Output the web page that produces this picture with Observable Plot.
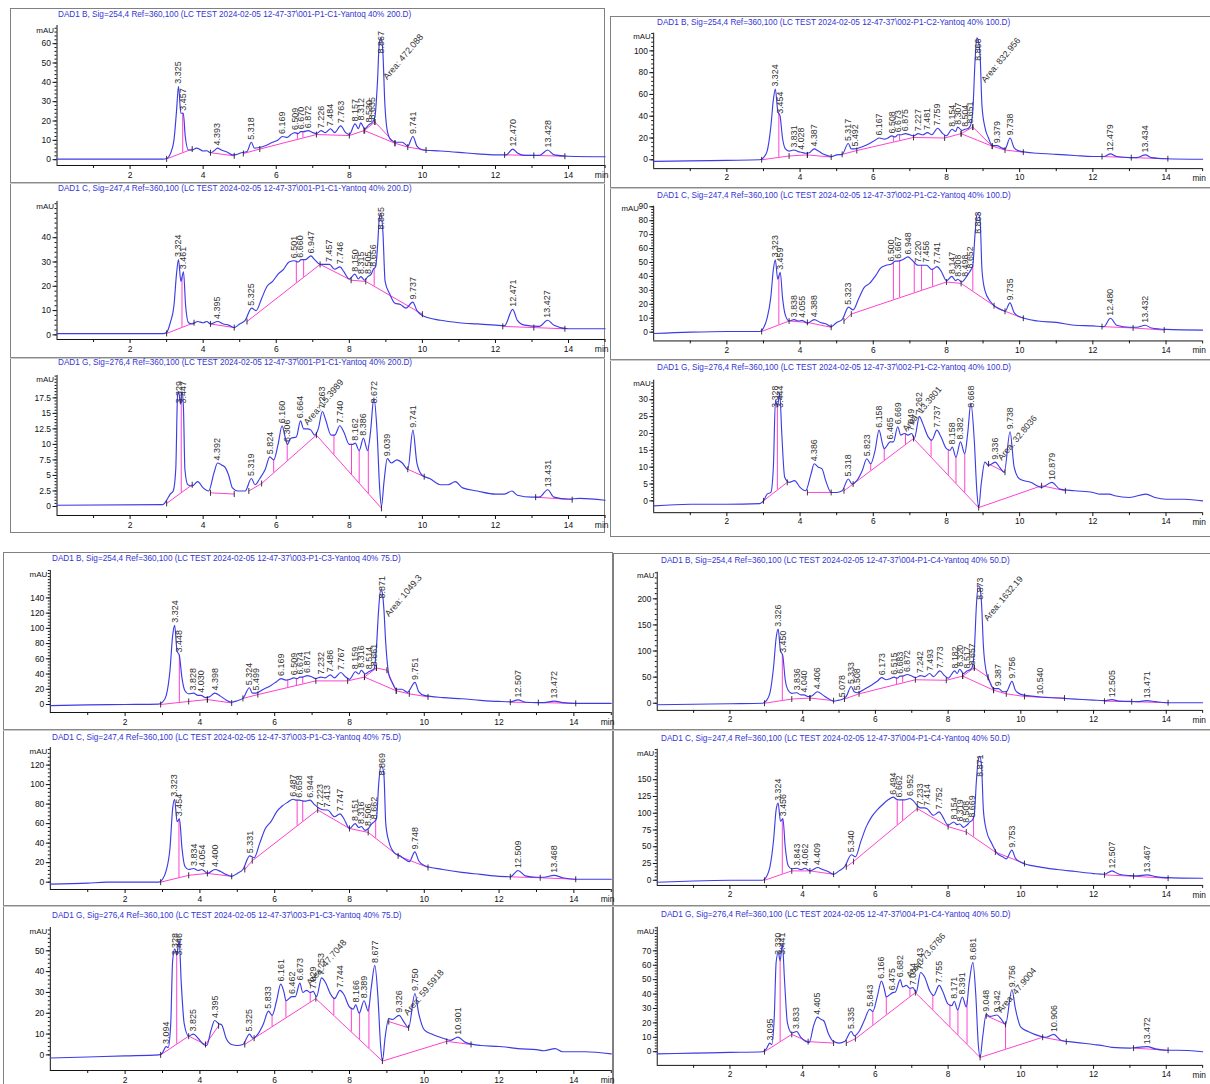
<!DOCTYPE html>
<html><head><meta charset="utf-8">
<script src="https://cdn.jsdelivr.net/npm/d3@7"></script>
<script src="https://cdn.jsdelivr.net/npm/@observablehq/plot@0.6"></script>
<style>
html,body{margin:0;padding:0;background:#fff}
body{width:1210px;height:1084px;overflow:hidden;position:relative;font-family:"Liberation Sans",Arial,sans-serif}
.grp{position:absolute;border:1px solid #808080;box-sizing:border-box}
.div{position:absolute;height:0;border-top:1px solid #8a8a8a;border-bottom:1px solid #c8c8c8}
.pan{position:absolute}
.ttl{position:absolute;color:#3434d6;font-size:9.2px;white-space:nowrap;line-height:10px;transform:scaleX(0.89);transform-origin:0 0}
</style></head><body>
<script>
// ---------------- DATA ----------------
const titles = [
 "DAD1 B, Sig=254,4 Ref=360,100 (LC TEST 2024-02-05 12-47-37\\001-P1-C1-Yantoq 40% 200.D)",
 "DAD1 C, Sig=247,4 Ref=360,100 (LC TEST 2024-02-05 12-47-37\\001-P1-C1-Yantoq 40% 200.D)",
 "DAD1 G, Sig=276,4 Ref=360,100 (LC TEST 2024-02-05 12-47-37\\001-P1-C1-Yantoq 40% 200.D)",
 "DAD1 B, Sig=254,4 Ref=360,100 (LC TEST 2024-02-05 12-47-37\\002-P1-C2-Yantoq 40% 100.D)",
 "DAD1 C, Sig=247,4 Ref=360,100 (LC TEST 2024-02-05 12-47-37\\002-P1-C2-Yantoq 40% 100.D)",
 "DAD1 G, Sig=276,4 Ref=360,100 (LC TEST 2024-02-05 12-47-37\\002-P1-C2-Yantoq 40% 100.D)",
 "DAD1 B, Sig=254,4 Ref=360,100 (LC TEST 2024-02-05 12-47-37\\003-P1-C3-Yantoq 40% 75.D)",
 "DAD1 C, Sig=247,4 Ref=360,100 (LC TEST 2024-02-05 12-47-37\\003-P1-C3-Yantoq 40% 75.D)",
 "DAD1 G, Sig=276,4 Ref=360,100 (LC TEST 2024-02-05 12-47-37\\003-P1-C3-Yantoq 40% 75.D)",
 "DAD1 B, Sig=254,4 Ref=360,100 (LC TEST 2024-02-05 12-47-37\\004-P1-C4-Yantoq 40% 50.D)",
 "DAD1 C, Sig=247,4 Ref=360,100 (LC TEST 2024-02-05 12-47-37\\004-P1-C4-Yantoq 40% 50.D)",
 "DAD1 G, Sig=276,4 Ref=360,100 (LC TEST 2024-02-05 12-47-37\\004-P1-C4-Yantoq 40% 50.D)"
];

// ---- 001 / B ----
const trace1B = [[0,0.3],[2.9,0.3],[3.0,0.6],[3.1,3],[3.2,10],[3.27,25],[3.325,38],[3.39,24],[3.457,24],[3.51,12],[3.6,5],[3.7,5],[3.82,6],[3.92,5.2],[4.0,4.5],[4.1,4.6],[4.2,3.6],[4.3,4.6],[4.393,6],[4.5,5],[4.65,4],[4.8,2.5],[4.9,2.6],[5.05,3.6],[5.2,4.2],[5.318,9],[5.4,6],[5.5,6.2],[5.7,7.2],[5.9,9],[6.05,10.2],[6.169,12],[6.3,11.5],[6.4,13],[6.509,14],[6.6,13.5],[6.67,14.5],[6.75,14.5],[6.872,15],[7.0,14],[7.1,13.5],[7.226,15],[7.35,14],[7.484,16],[7.6,14],[7.763,17.5],[7.9,14],[8.0,13],[8.157,18.5],[8.25,16],[8.312,19],[8.42,16],[8.53,18],[8.635,19.5],[8.7,22],[8.77,40],[8.82,60],[8.867,63],[8.92,55],[8.97,30],[9.05,14],[9.15,10],[9.3,9],[9.45,9],[9.6,7],[9.741,12],[9.85,7],[10.0,5],[10.5,4.5],[11.0,3.8],[11.5,3],[12.0,2.5],[12.3,2.5],[12.47,5.5],[12.6,3.5],[12.8,2.2],[13.2,2.2],[13.428,5],[13.6,2.5],[14.0,1.8],[15,1.5]];
const peaks1B = ["3.325","3.457","4.393","5.318","6.169","6.509","6.670","6.872","7.226","7.484","7.763","8.157","8.312","8.530","8.635","8.867","9.741","12.470","13.428"];
const areas1B = [["Area: 472.088",8.98,42]];
const base1B = [[[3.0,0.4],[3.7,5.5]],[[4.2,3.6],[4.85,2]],[[5.1,3.2],[5.55,5.5],[7.1,13],[8.0,12.5],[8.4,15],[8.7,19.5]],[[8.42,15],[9.25,8.5],[9.6,6.5],[10.1,5]],[[8.7,19.5],[9.25,8.5]],[[12.25,2.5],[13.05,2.2],[13.9,1.8]]];
const drops1B = [3.44,6.58,6.73];
const yticks1B = [0,10,20,30,40,50,60];

// ---- 001 / C ----
const trace1C = [[0,0.5],[2.9,0.5],[3.0,1],[3.1,5],[3.2,12],[3.27,25],[3.324,31],[3.39,22],[3.461,26],[3.52,12],[3.6,5],[3.7,4.5],[3.85,5.5],[4.0,5],[4.1,5.5],[4.2,4.5],[4.395,5.5],[4.55,4.5],[4.7,4],[4.85,3],[5.0,4.5],[5.15,6],[5.325,11],[5.45,10],[5.6,15],[5.75,20],[5.9,22],[6.05,25],[6.2,27],[6.35,30],[6.501,30.5],[6.6,30],[6.68,31],[6.8,31],[6.947,32.5],[7.05,31],[7.2,29],[7.35,29],[7.457,29],[7.6,27],[7.746,28],[7.85,26],[8.0,23],[8.15,25],[8.25,23],[8.315,24],[8.42,22.5],[8.505,24],[8.6,25],[8.656,27],[8.72,28],[8.78,38],[8.82,48],[8.865,50],[8.92,42],[8.98,22],[9.1,17],[9.25,13],[9.4,12.5],[9.55,11],[9.737,13.5],[9.85,10],[10.0,8],[10.5,6],[11.0,5],[11.5,4.5],[12.0,4],[12.25,3.8],[12.471,10.5],[12.6,6],[12.8,4],[13.2,3.5],[13.427,6],[13.6,4],[14.0,2.5],[15,2.5]];
const peaks1C = ["3.324","3.461","4.395","5.325","6.501","6.660","6.947","7.457","7.746","8.150","8.315","8.505","8.656","8.865","9.737","12.471","13.427"];
const areas1C = [];
const base1C = [[[3.0,0.6],[3.75,5]],[[4.2,4.5],[4.85,3]],[[5.2,5.5],[7.2,29],[8.05,22.5],[8.45,22],[10.0,8.5]],[[12.2,3.5],[13.05,3],[13.9,2.5]]];
const drops1C = [3.42,6.55,6.75,8.68];
const yticks1C = [0,10,20,30,40];

// ---- 001 / G ----
const trace1G = [[0,0.2],[2.9,0.3],[3.0,1],[3.1,2],[3.18,2.5],[3.25,6],[3.3,18],[3.33,18.5],[3.38,16.5],[3.42,18.5],[3.46,16],[3.5,6],[3.58,3.5],[3.7,3.3],[3.85,4],[4.0,3],[4.15,2.5],[4.3,5.5],[4.392,7],[4.5,6.7],[4.6,6.3],[4.7,5],[4.8,3],[4.95,2.5],[5.15,2.5],[5.319,4.5],[5.42,3.5],[5.55,4.5],[5.7,6],[5.824,8],[5.93,7.5],[6.05,10],[6.16,13],[6.25,11],[6.306,10],[6.4,11],[6.55,11.2],[6.664,13.8],[6.75,12.5],[6.85,12.5],[6.95,12.3],[7.05,11.5],[7.15,12.5],[7.263,15.3],[7.35,14],[7.5,11.5],[7.6,11.5],[7.74,13],[7.85,12],[8.0,10],[8.1,10],[8.162,10.2],[8.27,9],[8.386,11],[8.5,9],[8.58,12],[8.672,17.5],[8.76,12],[8.83,3],[8.88,0],[8.95,4],[9.039,7.7],[9.15,7],[9.3,7.5],[9.45,7],[9.6,6],[9.741,12.3],[9.85,7],[10.0,5],[10.2,4.5],[10.5,3.5],[10.7,3.5],[10.9,4],[11.1,3],[11.5,2.5],[12.0,2],[12.25,2],[12.45,2.5],[12.6,1.8],[13.0,1.5],[13.2,1.5],[13.431,2.7],[13.6,1.5],[14.0,1.2],[14.3,1.3],[15,1]];
const peaks1G = ["3.329","3.447","4.392","5.319","5.824","6.160","6.306","6.664","7.263","7.740","8.162","8.386","8.672","9.039","9.741","13.431"];
const areas1G = [["Area: 15.3989",6.8,13.3]];
const base1G = [[[3.0,0.5],[3.7,3.5]],[[4.2,2.2],[4.85,2]],[[5.25,2.5],[5.6,3.7],[7.1,11.5],[8.88,-0.3]],[[9.6,6],[10.05,4.8]],[[13.1,1.5],[14.1,1.1]]];
const drops1G = [3.4,5.93,6.3,7.58,8.06,8.27,8.52];
const yticks1G = [0,2.5,5,7.5,10,12.5,15,17.5];

// ---- 002 / B ----
const trace2B = [[0,-1.5],[1,-1],[2,-0.5],[2.9,0],[3.0,2],[3.1,8],[3.2,30],[3.27,55],[3.324,65],[3.39,45],[3.454,40],[3.52,20],[3.6,10],[3.7,8],[3.831,9],[3.95,7.5],[4.028,7],[4.15,6],[4.25,6.5],[4.387,10],[4.5,8],[4.65,5],[4.85,3],[5.0,4.5],[5.15,5],[5.317,15],[5.4,10],[5.492,10],[5.7,12],[5.9,15],[6.05,18],[6.167,20],[6.3,19],[6.4,20],[6.508,22],[6.6,21],[6.673,23],[6.75,23],[6.875,24],[7.0,23],[7.1,22],[7.227,24],[7.35,23],[7.481,25],[7.6,23],[7.759,29],[7.9,24],[8.0,22],[8.154,28],[8.25,26],[8.307,30],[8.42,27],[8.504,28],[8.6,29],[8.651,31],[8.72,45],[8.78,90],[8.83,112],[8.866,110],[8.92,95],[8.97,50],[9.05,30],[9.15,20],[9.25,13],[9.379,13],[9.5,11],[9.6,10],[9.738,20],[9.85,11],[10.0,8],[10.5,6],[11.0,5],[11.5,4],[12.0,3],[12.3,3],[12.479,5.5],[12.65,3],[13.0,2],[13.2,2],[13.434,4.5],[13.6,2],[14.0,1],[15,0.5]];
const peaks2B = ["3.324","3.454","3.831","4.028","4.387","5.317","5.492","6.167","6.508","6.673","6.875","7.227","7.481","7.759","8.154","8.307","8.504","8.651","8.866","9.379","9.738","12.479","13.434"];
const areas2B = [["Area: 832.956",9.0,72]];
const base2B = [[[2.95,0],[3.7,3.5],[4.2,4.5]],[[4.2,4.5],[4.85,2.5]],[[5.15,5],[5.55,8.5],[7.1,20.5],[7.95,20],[8.4,24],[8.72,30]],[[8.4,24],[9.25,12.5],[9.6,9],[10.1,7]],[[8.72,30],[9.25,12.5]],[[12.25,3],[13.05,2],[14.05,1]]];
const drops2B = [3.42,6.55,6.72];
const yticks2B = [0,20,40,60,80,100];

// ---- 002 / C ----
const trace2C = [[0,-1],[1,0],[2,0.5],[2.9,0.5],[3.0,3],[3.1,10],[3.2,25],[3.27,45],[3.323,52],[3.39,38],[3.459,43],[3.52,25],[3.6,12],[3.7,8],[3.838,9],[3.95,8],[4.055,8.5],[4.2,6.5],[4.388,9],[4.55,7],[4.7,6],[4.85,4],[5.0,7],[5.15,9],[5.323,18],[5.45,16],[5.6,24],[5.75,32],[5.9,35],[6.05,40],[6.2,46],[6.35,48],[6.5,49],[6.6,51],[6.667,51],[6.8,52],[6.948,54],[7.05,52],[7.22,48],[7.35,48],[7.456,48],[7.6,45],[7.741,47],[7.85,44],[8.0,37],[8.147,40],[8.25,37],[8.308,38],[8.42,36],[8.498,38],[8.6,42],[8.652,44],[8.72,48],[8.78,70],[8.83,84],[8.863,85],[8.92,80],[8.97,45],[9.05,30],[9.2,22],[9.35,18],[9.5,16],[9.6,15],[9.735,21],[9.85,14],[10.0,11],[10.5,8],[11.0,7],[11.5,5],[12.0,4.5],[12.3,4],[12.48,10],[12.65,5],[13.0,3.5],[13.2,3.5],[13.432,5],[13.6,3],[14.0,2],[15,1.5]];
const peaks2C = ["3.323","3.459","3.838","4.055","4.388","5.323","6.500","6.667","6.948","7.220","7.456","7.741","8.147","8.308","8.498","8.652","8.863","9.735","12.480","13.432"];
const areas2C = [];
const base2C = [[[2.95,0.5],[3.7,8],[4.2,7],[4.85,3.5]],[[5.2,8],[5.4,13],[8.0,36],[8.4,35],[9.3,19],[9.6,15],[10.1,10]],[[12.25,4],[13.1,3],[13.95,1.5]]];
const drops2C = [3.42,6.55,6.72,7.12,7.32,7.62,8.72];
const yticks2C = [0,10,20,30,40,50,60,70,80,90];

// ---- 002 / G ----
const trace2G = [[0,-1.5],[1,-1],[2,-1],[2.9,-0.8],[3.0,0],[3.1,2],[3.2,2.5],[3.27,10],[3.328,30],[3.38,28],[3.444,32],[3.5,20],[3.58,7],[3.7,5.5],[3.85,6],[4.0,4],[4.15,3],[4.3,8],[4.386,11],[4.5,10],[4.6,9.5],[4.7,6],[4.85,2.5],[5.0,2.5],[5.15,3],[5.318,6.5],[5.42,5],[5.55,6],[5.7,9],[5.823,12.5],[5.93,11],[6.05,15],[6.158,21],[6.25,17],[6.3,15.5],[6.465,17.5],[6.55,17.5],[6.669,22],[6.75,19.5],[6.85,20],[6.95,19.5],[7.049,20],[7.12,18.5],[7.262,25],[7.35,23],[7.5,19],[7.6,18],[7.737,21],[7.85,19],[8.0,15.5],[8.1,15],[8.158,16],[8.26,13],[8.382,17.5],[8.5,14],[8.58,20],[8.668,29],[8.76,18],[8.83,3],[8.88,-2],[8.95,5],[9.05,11.5],[9.15,10.5],[9.336,11.5],[9.45,10],[9.58,8.5],[9.738,20.5],[9.85,10],[10.0,6.5],[10.3,5.5],[10.6,4],[10.879,5.5],[11.1,3.5],[11.5,3],[12.0,2.5],[12.2,2],[12.45,2],[12.6,1.5],[13.0,1],[13.45,2],[13.7,1],[14.0,0.5],[14.5,0.5],[15,0]];
const peaks2G = ["3.328","3.444","4.386","5.318","5.823","6.158","6.465","6.669","7.049","7.262","7.737","8.158","8.382","8.668","9.336","9.738","10.879"];
const areas2G = [["Area: 13.3801",6.85,21],["Area: 32.8036",9.45,12.4]];
const base2G = [[[3.0,0],[3.65,5.5]],[[4.2,2.5],[4.85,2.5]],[[5.2,3],[5.45,5],[7.1,18.5],[8.88,-2],[10.6,4.5],[11.25,3]],[[9.15,11],[9.6,8.5]]];
const drops2G = [3.38,5.93,6.3,6.88,7.58,8.05,8.26,8.5];
const yticks2G = [0,5,10,15,20,25,30];

// ---- 003 / B ----
const trace3B = [[0,-1.5],[1,-0.5],[2,0],[2.9,0.5],[3.0,3],[3.1,12],[3.2,45],[3.27,90],[3.324,104],[3.39,70],[3.448,65],[3.52,35],[3.6,18],[3.7,14],[3.828,15],[3.95,12],[4.03,12],[4.15,9],[4.25,10],[4.398,15],[4.55,11],[4.7,6],[4.85,3],[5.0,5],[5.15,8],[5.324,22],[5.4,15],[5.499,15],[5.7,20],[5.9,25],[6.05,30],[6.169,34],[6.3,32],[6.4,33],[6.509,35],[6.6,34],[6.674,36],[6.75,36],[6.871,38],[7.0,36],[7.1,34],[7.232,36],[7.35,35],[7.486,39],[7.6,35],[7.767,42],[7.9,36],[8.0,33],[8.159,43],[8.25,40],[8.316,45],[8.42,40],[8.514,43],[8.6,45],[8.661,47],[8.72,75],[8.78,125],[8.83,150],[8.871,148],[8.92,125],[8.97,80],[9.05,40],[9.15,28],[9.25,20],[9.4,20],[9.55,16],[9.751,29],[9.85,17],[10.0,12],[10.5,9],[11.0,7.5],[11.5,5.5],[12.0,4],[12.3,3.5],[12.507,6],[12.7,3],[13.0,2.5],[13.2,2.5],[13.472,4.5],[13.7,2.5],[14.0,1.5],[15,1.5]];
const peaks3B = ["3.324","3.448","3.828","4.030","4.398","5.324","5.499","6.169","6.509","6.674","6.871","7.232","7.486","7.767","8.159","8.316","8.514","8.661","8.871","9.751","12.507","13.472"];
const areas3B = [["Area: 1049.3",9.0,117]];
const base3B = [[[2.95,0],[3.7,4],[4.2,6.5]],[[4.2,6.5],[4.85,2]],[[5.15,8],[5.55,13],[7.1,31],[7.95,31],[8.4,36],[8.72,48]],[[8.4,36],[9.25,18],[9.6,14],[10.1,10]],[[8.72,48],[9.0,45],[9.25,18]],[[12.3,3],[13.05,2.5],[14.05,1.5]]];
const drops3B = [3.45,6.35,6.58,6.75];
const yticks3B = [0,20,40,60,80,100,120,140];

// ---- 003 / C ----
const trace3C = [[0,-2],[1,-1],[1.5,0],[2.9,0],[3.0,3],[3.1,12],[3.2,35],[3.27,75],[3.323,85],[3.39,62],[3.454,65],[3.52,35],[3.6,16],[3.7,13],[3.834,14],[3.95,12],[4.054,13],[4.2,9],[4.4,13],[4.55,11],[4.7,8],[4.85,6],[5.0,9],[5.15,13],[5.331,27],[5.45,25],[5.6,40],[5.75,55],[5.9,62],[6.05,72],[6.2,78],[6.35,82],[6.487,85],[6.58,84],[6.658,84],[6.8,83],[6.944,84],[7.05,80],[7.223,75],[7.35,74],[7.413,74],[7.6,67],[7.747,70],[7.85,65],[8.0,55],[8.151,60],[8.25,56],[8.316,57],[8.42,53],[8.506,55],[8.6,60],[8.662,62],[8.72,65],[8.78,100],[8.83,118],[8.869,118],[8.92,110],[8.97,60],[9.05,42],[9.2,30],[9.35,27],[9.5,23],[9.6,21],[9.748,31],[9.85,22],[10.0,17],[10.5,13],[11.0,10],[11.5,8],[12.0,6],[12.3,5.5],[12.509,12],[12.7,6.5],[13.0,5],[13.2,5],[13.468,7],[13.7,4.5],[14.0,3],[15,3]];
const peaks3C = ["3.323","3.454","3.834","4.054","4.400","5.331","6.487","6.658","6.944","7.223","7.413","7.747","8.151","8.316","8.506","8.662","8.869","9.748","12.509","13.468"];
const areas3C = [];
const base3C = [[[2.95,0],[3.7,7],[4.2,9],[4.85,6]],[[5.2,13],[5.4,22],[7.15,74],[8.0,55],[8.5,51],[9.3,27],[10.1,15]],[[12.3,5.5],[13.1,4.5],[14.05,3]]];
const drops3C = [3.44,6.6,6.75,8.7];
const yticks3C = [0,20,40,60,80,100,120];

// ---- 003 / G ----
const trace3G = [[0,-1.5],[1,-1],[2,-0.5],[2.9,0],[3.0,1],[3.094,4],[3.15,3.5],[3.22,15],[3.27,45],[3.328,51],[3.38,48],[3.446,55],[3.5,35],[3.58,15],[3.7,9],[3.825,10],[3.95,8],[4.1,5],[4.18,4.5],[4.3,12],[4.395,16.5],[4.5,15],[4.58,14.5],[4.7,8],[4.85,5],[5.0,4.5],[5.15,5],[5.325,10],[5.42,8],[5.55,10],[5.7,15],[5.833,21],[5.93,19],[6.05,26],[6.161,34],[6.25,30],[6.3,26],[6.462,28],[6.55,28],[6.673,34.5],[6.75,30],[6.85,31],[6.95,30],[7.029,30.5],[7.12,28],[7.253,37],[7.35,35],[7.5,29],[7.6,27],[7.744,31],[7.85,29],[8.0,23],[8.1,22],[8.166,24],[8.26,20],[8.389,26],[8.5,21],[8.58,32],[8.677,43],[8.76,28],[8.83,5],[8.88,-3],[8.95,8],[9.05,17.5],[9.15,17],[9.326,19],[9.45,16],[9.58,13],[9.75,29.5],[9.85,20],[10.0,12],[10.2,10],[10.5,8],[10.7,7],[10.901,8.5],[11.1,6],[11.5,4.5],[12.0,4],[12.3,3.5],[12.5,3],[13.0,2.5],[13.2,2],[13.5,3],[13.7,1.5],[14.0,1.5],[14.3,1.5],[15,0.5]];
const peaks3G = ["3.094","3.328","3.446","3.825","4.395","5.325","5.833","6.161","6.462","6.673","7.029","7.253","7.744","8.166","8.389","8.677","9.326","9.750","10.901"];
const areas3G = [["Area: 47.7048",6.9,34],["Area: 59.5918",9.5,19.6]];
const base3G = [[[2.95,0],[3.7,9],[4.15,5],[4.5,14]],[[5.2,5],[5.45,8],[7.1,27],[8.88,-3],[10.6,6.5],[11.25,5]],[[9.05,16],[9.58,13]]];
const drops3G = [3.38,5.93,6.3,6.95,7.58,8.05,8.27,8.52];
const yticks3G = [0,10,20,30,40,50];

// ---- 004 / B ----
const trace4B = [[0,-3],[1,-2],[2,-1],[2.9,0],[3.0,5],[3.1,20],[3.2,70],[3.27,125],[3.326,142],[3.39,100],[3.45,92],[3.52,45],[3.6,25],[3.7,19],[3.836,20],[3.95,16],[4.04,16],[4.15,13],[4.25,14],[4.406,22],[4.55,16],[4.7,9],[4.85,4],[5.0,6],[5.078,7],[5.2,13],[5.333,32],[5.42,22],[5.508,20],[5.7,27],[5.9,35],[6.05,42],[6.173,49],[6.3,45],[6.4,47],[6.515,50],[6.6,48],[6.683,52],[6.75,52],[6.872,55],[7.0,52],[7.1,49],[7.242,53],[7.35,51],[7.493,57],[7.6,51],[7.773,62],[7.9,53],[8.0,48],[8.182,62],[8.25,57],[8.32,65],[8.42,57],[8.517,62],[8.6,64],[8.657,68],[8.72,100],[8.78,190],[8.83,225],[8.873,222],[8.92,190],[8.97,110],[9.05,60],[9.15,40],[9.25,28],[9.387,28],[9.5,22],[9.6,22],[9.756,42],[9.85,25],[10.0,17],[10.54,12],[11.0,10],[11.5,8],[12.0,6],[12.3,5],[12.505,7],[12.7,4],[13.0,3.5],[13.2,3],[13.471,5],[13.7,3],[14.0,1],[15,1]];
const peaks4B = ["3.326","3.450","3.836","4.040","4.406","5.078","5.333","5.508","6.173","6.515","6.683","6.872","7.242","7.493","7.773","8.182","8.320","8.517","8.657","8.873","9.387","9.756","10.540","12.505","13.471"];
const areas4B = [["Area: 1632.19",9.03,160]];
const base4B = [[[2.95,0],[3.7,8],[4.2,10]],[[4.2,10],[4.85,5]],[[5.15,8],[5.55,18],[7.1,45],[7.95,44],[8.4,52],[8.72,68]],[[8.4,52],[9.25,25],[9.6,18],[10.1,13],[11.2,10]],[[8.72,68],[9.1,50],[9.25,25]],[[12.3,4],[13.05,3],[14.05,1]]];
const drops4B = [3.44,6.58,6.75];
const yticks4B = [0,50,100,150,200];

// ---- 004 / C ----
const trace4C = [[0,-3],[1,-1],[2,0],[2.9,0],[3.0,5],[3.1,20],[3.2,60],[3.27,105],[3.324,115],[3.39,88],[3.456,92],[3.52,50],[3.6,22],[3.7,17],[3.843,18],[3.95,16],[4.062,18],[4.2,14],[4.409,19],[4.55,16],[4.7,13],[4.85,9],[5.0,14],[5.15,20],[5.34,38],[5.45,35],[5.6,58],[5.75,80],[5.9,95],[6.05,105],[6.2,113],[6.35,120],[6.494,124],[6.58,121],[6.662,120],[6.8,120],[6.952,122],[7.05,118],[7.233,108],[7.35,108],[7.414,107],[7.6,97],[7.752,102],[7.85,95],[8.0,82],[8.154,87],[8.25,83],[8.319,84],[8.42,79],[8.508,82],[8.6,87],[8.669,90],[8.72,98],[8.78,150],[8.83,180],[8.871,185],[8.92,170],[8.97,105],[9.05,75],[9.2,55],[9.35,40],[9.5,35],[9.6,32],[9.753,45],[9.85,33],[10.0,27],[10.5,20],[11.0,16],[11.5,13],[12.0,10],[12.3,9],[12.507,14],[12.7,9],[13.0,7],[13.2,6.5],[13.467,8],[13.7,5.5],[14.0,4],[15,3]];
const peaks4C = ["3.324","3.456","3.843","4.062","4.409","5.340","6.494","6.662","6.952","7.233","7.414","7.752","8.154","8.319","8.508","8.669","8.871","9.753","12.507","13.467"];
const areas4C = [];
const base4C = [[[2.95,0],[3.7,14],[4.2,14],[4.85,9]],[[5.2,20],[5.4,28],[7.15,107],[8.0,80],[8.5,72],[9.3,42],[10.1,25]],[[12.3,8],[13.1,6],[14.05,3]]];
const drops4C = [3.44,6.6,6.75,8.7];
const yticks4C = [0,25,50,75,100,125,150];

// ---- 004 / G ----
const trace4G = [[0,-1.5],[1,-1],[2,-0.5],[2.9,0],[3.0,2],[3.095,6],[3.15,5],[3.22,25],[3.27,62],[3.33,69],[3.38,63],[3.441,75],[3.5,50],[3.58,20],[3.7,13],[3.833,14],[3.95,10],[4.1,7],[4.18,6.5],[4.3,18],[4.405,24],[4.5,22.5],[4.58,21.5],[4.7,13],[4.85,7],[5.0,6],[5.15,7],[5.335,14],[5.42,11],[5.55,14],[5.7,22],[5.843,29.5],[5.93,28],[6.05,38],[6.166,49],[6.25,43],[6.3,38],[6.475,41],[6.55,41.5],[6.682,50],[6.75,45],[6.85,46],[6.95,44],[7.034,44.5],[7.12,41],[7.243,55],[7.35,52],[7.5,42],[7.6,39],[7.755,46],[7.85,42],[8.0,33],[8.1,32],[8.171,35],[8.26,29],[8.391,38],[8.5,31],[8.58,48],[8.681,62],[8.76,40],[8.83,5],[8.88,-4],[8.95,10],[9.048,26],[9.15,24.5],[9.342,25.5],[9.45,23],[9.58,19],[9.756,43],[9.85,30],[10.0,17],[10.2,14],[10.5,11],[10.7,10],[10.906,12],[11.1,8],[11.5,6.5],[12.0,5],[12.3,4],[12.5,3],[13.0,2.5],[13.2,3],[13.472,3.5],[13.7,2],[14.0,1],[14.3,1],[15,0]];
const peaks4G = ["3.095","3.330","3.441","3.833","4.405","5.335","5.843","6.166","6.475","6.682","7.034","7.243","7.755","8.171","8.391","8.681","9.048","9.342","9.756","10.906","13.472"];
const areas4G = [["Area: 73.6786",6.9,52],["Area: 47.9004",9.4,28]];
const base4G = [[[2.95,0],[3.7,12],[4.15,7],[4.85,6]],[[5.2,6],[5.45,9],[7.1,41],[8.88,-4],[10.6,10],[11.25,7]],[[9.05,25],[9.58,19]],[[13.1,2.5],[14.05,1]]];
const drops4G = [3.38,5.93,6.3,6.95,7.58,8.05,8.27,8.52,9.58];
const yticks4G = [0,10,20,30,40,50,60,70];

const xticks = [2,4,6,8,10,12,14];
const xminor = [1,3,5,7,9,11,13,15];

// ---------------- LAYOUT ----------------
const groups = [
  {left:10, top:8, width:595, height:525, divs:[182,357]},
  {left:610, top:16, width:604, height:521, divs:[187,359]},
  {left:3, top:552, width:610, height:536, divs:[729,905]},
  {left:613, top:553, width:601, height:535, divs:[729,905]}
];
const panels = [
  {g:0, trace:trace1B, peaks:peaks1B, areas:areas1B, base:base1B, drops:drops1B, yt:yticks1B, ymin:-3.0, ymax:69.4, top:25, bot:165, x0:56.5, ppm:36.54, tx:58, ty:9, mau:5, maux:-3},
  {g:0, trace:trace1C, peaks:peaks1C, areas:areas1C, base:base1C, drops:drops1C, yt:yticks1C, ymin:-1.9, ymax:54.9, top:201, bot:339, x0:56.5, ppm:36.54, tx:58, ty:183, mau:5, maux:-3},
  {g:0, trace:trace1G, peaks:peaks1G, areas:areas1G, base:base1G, drops:drops1G, yt:yticks1G, ymin:-1.45, ymax:21.1, top:375, bot:515, x0:56.5, ppm:36.54, tx:58, ty:357, mau:4, maux:-3},
  {g:1, trace:trace2B, peaks:peaks2B, areas:areas2B, base:base2B, drops:drops2B, yt:yticks2B, ymin:-8.1, ymax:116.2, top:33, bot:171, x0:654, ppm:37.3, tx:657, ty:17, mau:3, maux:-3},
  {g:1, trace:trace2C, peaks:peaks2C, areas:areas2C, base:base2C, drops:drops2C, yt:yticks2C, ymin:-6.3, ymax:90.4, top:205.7, bot:343, x0:654, ppm:37.3, tx:657, ty:190, mau:2, maux:-15},
  {g:1, trace:trace2G, peaks:peaks2G, areas:areas2G, base:base2G, drops:drops2G, yt:yticks2G, ymin:-3.5, ymax:35.8, top:380, bot:515, x0:654, ppm:37.3, tx:657, ty:362, mau:3, maux:-3},
  {g:2, trace:trace3B, peaks:peaks3B, areas:areas3B, base:base3B, drops:drops3B, yt:yticks3B, ymin:-10.5, ymax:176, top:570, bot:712, x0:49.8, ppm:37.4, tx:52, ty:553, mau:4, maux:-3},
  {g:2, trace:trace3C, peaks:peaks3C, areas:areas3C, base:base3C, drops:drops3C, yt:yticks3C, ymin:-7.5, ymax:138, top:747, bot:889, x0:49.8, ppm:37.4, tx:52, ty:732, mau:4, maux:-3},
  {g:2, trace:trace3G, peaks:peaks3G, areas:areas3G, base:base3G, drops:drops3G, yt:yticks3G, ymin:-7.5, ymax:61.2, top:927, bot:1070, x0:49.8, ppm:37.4, tx:52, ty:910, mau:4, maux:-3},
  {g:3, trace:trace4B, peaks:peaks4B, areas:areas4B, base:base4B, drops:drops4B, yt:yticks4B, ymin:-13.7, ymax:251, top:572, bot:713, x0:657.6, ppm:37.1, tx:661, ty:555, mau:3, maux:-3},
  {g:3, trace:trace4C, peaks:peaks4C, areas:areas4C, base:base4C, drops:drops4C, yt:yticks4C, ymin:-7.7, ymax:195.5, top:749, bot:888, x0:657.6, ppm:37.1, tx:661, ty:733, mau:4, maux:-3},
  {g:3, trace:trace4G, peaks:peaks4G, areas:areas4G, base:base4G, drops:drops4G, yt:yticks4G, ymin:-9.5, ymax:86.4, top:927, bot:1068, x0:657.6, ppm:37.1, tx:661, ty:909, mau:4, maux:-3}
];

// ---------------- DRAW ----------------
const BLUE = "#3c3ce6", MAG = "#ff3fd0", FONT = "'Liberation Sans', Arial, sans-serif";
function interp(arr, t) {
  for (let i = 1; i < arr.length; i++) {
    if (arr[i][0] >= t) { const a = arr[i-1], b = arr[i]; return a[1] + (b[1]-a[1])*(t-a[0])/((b[0]-a[0])||1); }
  }
  return arr[arr.length-1][1];
}
function baseAt(base, t) {
  for (const pl of base) if (t >= pl[0][0] && t <= pl[pl.length-1][0]) return interp(pl, t);
  return 0;
}
function minorTicks(yt, ymax) {
  const step = (yt[1]-yt[0]) / 5, out = [];
  for (let v = yt[0]; v <= ymax + 1e-9; v += step) out.push(+v.toFixed(4));
  return out;
}

const body = document.body;
groups.forEach(g => {
  const d = document.createElement("div");
  d.className = "grp";
  Object.assign(d.style, {left:g.left+"px", top:g.top+"px", width:g.width+"px", height:g.height+"px"});
  body.appendChild(d);
});
groups.forEach(g => g.divs.forEach(y => {
  const d = document.createElement("div");
  d.className = "div";
  Object.assign(d.style, {left: g.left+"px", top: y+"px", width: g.width+"px"});
  body.appendChild(d);
}));

panels.forEach((P, i) => {
  const G = groups[P.g];
  const svgLeft = G.left + 1, svgTop = P.top - 14;
  const mL = P.x0 - svgLeft, mR = 8, mT = P.top - svgTop, mB = 18;
  const width = mL + 15*P.ppm + mR;
  const height = mT + (P.bot - P.top) + mB;
  const ppu = (P.bot - P.top) / (P.ymax - P.ymin);
  const labels = P.peaks.map(s => {
    const t = +s, y = interp(P.trace, t), len = s.length*5.0 + 3;
    return {t, s, y: Math.min(y + 2.5/ppu, P.ymax - len/ppu)};
  });
  const segs = [];
  P.base.forEach((pl, k) => pl.forEach(([t, y]) => segs.push({t, y, k})));
  const dropRows = P.drops.map(t => ({t, y1: baseAt(P.base, t), y2: interp(P.trace, t)}));
  const tickRows = segs.map(d => ({t: d.t, y1: d.y - 3/ppu, y2: d.y + 3/ppu}));
  const chart = Plot.plot({
    width, height, marginLeft: mL, marginRight: mR, marginTop: mT, marginBottom: mB,
    x: {domain: [0, 15]},
    y: {domain: [P.ymin, P.ymax]},
    style: {fontFamily: FONT, fontSize: "8.5px", color: "#111", background: "transparent", overflow: "visible"},
    marks: [
      Plot.ruleX([0], {stroke: "#111", strokeWidth: 1}),
      Plot.ruleY([P.ymin], {stroke: "#111", strokeWidth: 1}),
      Plot.axisY(minorTicks(P.yt, P.ymax), {tickSize: 2, tickFormat: () => "", label: null, stroke: "#111"}),
      Plot.axisY(P.yt, {tickSize: 4, tickPadding: 2, tickFormat: d => String(d), label: null, fontSize: 8.5, fill: "#111", stroke: "#111"}),
      Plot.axisX(xminor, {tickSize: 3, tickFormat: () => "", label: null, stroke: "#111"}),
      Plot.axisX(xticks, {tickSize: 4, tickPadding: 2, label: null, fontSize: 8.5, fill: "#111", stroke: "#111"}),
      Plot.text(["mAU"], {x: 0, y: P.ymax, dx: P.maux, dy: P.mau, textAnchor: "end", fontSize: 8, fill: "#111"}),
      Plot.text(["min"], {x: 14.72, y: P.ymin, dy: 10, textAnchor: "start", fontSize: 8.5, fill: "#111"}),
      Plot.line(segs, {x: "t", y: "y", z: "k", stroke: MAG, strokeWidth: 1}),
      Plot.ruleX(dropRows, {x: "t", y1: "y1", y2: "y2", stroke: MAG, strokeWidth: 1}),
      Plot.line(P.trace, {x: d => d[0], y: d => d[1], stroke: BLUE, strokeWidth: 1.15, curve: "monotone-x"}),
      Plot.link(tickRows, {x1: "t", x2: "t", y1: "y1", y2: "y2", stroke: "#222", strokeWidth: 0.9}),
      Plot.text(labels, {x: "t", y: "y", text: "s", rotate: -90, textAnchor: "start", fontSize: 9, fill: "#333"}),
      Plot.text(P.areas, {x: d => d[1], y: d => d[2], text: d => d[0], rotate: -50, textAnchor: "start", fontSize: 9, fill: "#333"})
    ]
  });
  const wrap = document.createElement("div");
  wrap.className = "pan";
  Object.assign(wrap.style, {left: svgLeft+"px", top: svgTop+"px"});
  wrap.appendChild(chart);
  body.appendChild(wrap);
  const t = document.createElement("div");
  t.className = "ttl";
  t.textContent = titles[i];
  Object.assign(t.style, {left: P.tx+"px", top: P.ty+"px"});
  body.appendChild(t);
});
</script>
</body></html>
